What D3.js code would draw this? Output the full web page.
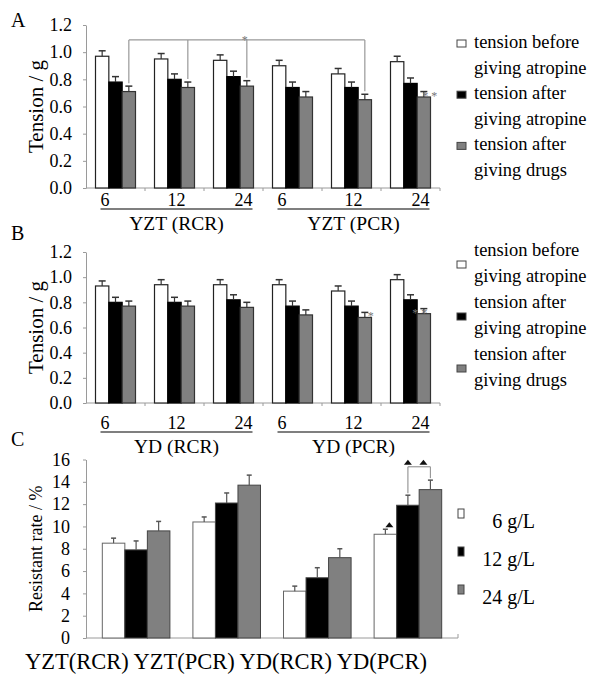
<!DOCTYPE html>
<html>
<head>
<meta charset="utf-8">
<script src="https://cdn.jsdelivr.net/npm/d3@7"></script>
<style>
body { margin: 0; background: #fff; }
svg text { font-family: "Liberation Serif", "DejaVu Serif", serif; fill: #000; }
</style>
</head>
<body>
<div id="chart"></div>
<script>
// doses (g/L) under each bar group
var doses = ['6', '12', '24'];
var seriesKeys = ['before', 'afterAtropine', 'afterDrugs'];
var tensionLegend = [
    ['tension before', 'giving atropine'],
    ['tension after', 'giving atropine'],
    ['tension after', 'giving drugs']
];
var tensionTicks = [0, 0.2, 0.4, 0.6, 0.8, 1.0, 1.2];

// panel A: YZT
var groupsA = ['YZT (RCR)', 'YZT (PCR)'];
var aBefore = [0.97, 0.95, 0.94, 0.90, 0.84, 0.93];
var aAfterAtropine = [0.78, 0.80, 0.82, 0.74, 0.74, 0.77];
var aAfterDrugs = [0.71, 0.74, 0.75, 0.67, 0.65, 0.67];
var aErr = [0.04, 0.04, 0.04, 0.04, 0.04, 0.04];

// panel B: YD
var groupsB = ['YD (RCR)', 'YD (PCR)'];
var bBefore = [0.93, 0.94, 0.94, 0.94, 0.89, 0.98];
var bAfterAtropine = [0.80, 0.80, 0.82, 0.77, 0.77, 0.82];
var bAfterDrugs = [0.77, 0.77, 0.76, 0.70, 0.68, 0.71];
var bErr = [0.04, 0.04, 0.04, 0.04, 0.04, 0.04];

// panel C: resistant rate
var categoriesC = ['YZT(RCR)', 'YZT(PCR)', 'YD(RCR)', 'YD(PCR)'];
var concKeys = ['6 g/L', '12 g/L', '24 g/L'];
var c6 = [8.5, 10.4, 4.2, 9.3];
var c12 = [7.9, 12.1, 5.4, 11.9];
var c24 = [9.6, 13.7, 7.2, 13.3];
var c6Err = [0.45, 0.45, 0.45, 0.45];
var c12Err = [0.8, 0.9, 0.9, 0.9];
var c24Err = [0.85, 0.9, 0.8, 0.85];
var resistTicks = [0, 2, 4, 6, 8, 10, 12, 14, 16];

var serif = '"Liberation Serif", "DejaVu Serif", serif';
var fills = ['#ffffff', '#000000', '#808080'];
var strokes = ['#222', '#000', '#333'];

var svg = d3.select('#chart')
    .append('svg')
    .attr('width', 601)
    .attr('height', 677)
    .attr('font-family', serif);

function styleAxis(g) {
    g.attr('font-family', serif);
    g.select('.domain').attr('stroke', '#9a9a9a');
    g.selectAll('.tick line').attr('stroke', '#9a9a9a');
    g.selectAll('.tick text')
        .attr('fill', '#000')
        .style('font-size', '18px')
        .style('font-family', serif);
}

function errorBar(g, cx, y, v, e, capHalf, colour) {
    g.append('line')
        .attr('x1', cx).attr('x2', cx)
        .attr('y1', y(v)).attr('y2', y(v + e))
        .attr('stroke', colour).attr('stroke-width', 1.2);
    g.append('line')
        .attr('x1', cx - capHalf).attr('x2', cx + capHalf)
        .attr('y1', y(v + e)).attr('y2', y(v + e))
        .attr('stroke', colour).attr('stroke-width', 1.5);
}

function tensionPanel(cfg) {
    var g = svg.append('g');
    var values = [cfg.before, cfg.afterAtropine, cfg.afterDrugs];

    var x = d3.scaleBand()
        .domain(d3.range(6))
        .range([86, 440])
        .paddingInner(0.322)
        .paddingOuter(0.161);
    var xs = d3.scaleBand()
        .domain(seriesKeys)
        .range([0, x.bandwidth()]);
    var y = d3.scaleLinear()
        .domain([0, 1.2])
        .range([cfg.bottom, cfg.top]);

    // x axis line with ticks between groups
    g.append('line')
        .attr('x1', 86).attr('x2', 440)
        .attr('y1', y(0)).attr('y2', y(0))
        .attr('stroke', '#9a9a9a');
    g.selectAll('.sep')
        .data(d3.range(1, 7))
        .enter()
        .append('line')
        .attr('x1', function(i) { return x(0) - x.step() * x.paddingInner() / 2 + i * x.step(); })
        .attr('x2', function(i) { return x(0) - x.step() * x.paddingInner() / 2 + i * x.step(); })
        .attr('y1', y(0))
        .attr('y2', y(0) + 3)
        .attr('stroke', '#9a9a9a');

    g.append('g')
        .attr('transform', 'translate(86,0)')
        .call(d3.axisLeft(y)
            .tickValues(tensionTicks)
            .tickFormat(d3.format('.1f'))
            .tickSizeInner(3)
            .tickSizeOuter(0)
            .tickPadding(11))
        .call(styleAxis);

    // bars
    seriesKeys.forEach(function(k, s) {
        g.selectAll('.bar-' + k)
            .data(values[s])
            .enter()
            .append('rect')
            .attr('x', function(d, i) { return x(i) + xs(k); })
            .attr('y', function(d) { return y(d); })
            .attr('width', xs.bandwidth())
            .attr('height', function(d) { return y(0) - y(d); })
            .attr('fill', fills[s])
            .attr('stroke', strokes[s])
            .attr('stroke-width', 1.2);
    });
    seriesKeys.forEach(function(k, s) {
        values[s].forEach(function(v, i) {
            errorBar(g, x(i) + xs(k) + xs.bandwidth() / 2, y, v, cfg.err[i], 3.5, '#333');
        });
    });

    // dose labels and group titles
    cfg.groups.forEach(function(name, gi) {
        var first = gi * 3, last = gi * 3 + 2;
        var x1 = x(first) + 5, x2 = x(last) + x.bandwidth() - 1;
        g.append('line')
            .attr('x1', x1).attr('x2', x2)
            .attr('y1', y(0) + cfg.lineGap).attr('y2', y(0) + cfg.lineGap)
            .attr('stroke', '#000').attr('stroke-width', 1.2);
        doses.forEach(function(d, di) {
            var col = first + di;
            var t = g.append('text')
                .attr('y', y(0) + cfg.lineGap - 3)
                .style('font-size', '18px')
                .text(d);
            if (di === 0) {
                t.attr('x', x1).attr('text-anchor', 'start');
            } else if (di === 2) {
                t.attr('x', x2).attr('text-anchor', 'end');
            } else {
                t.attr('x', x(col) + x.bandwidth() / 2 + 2).attr('text-anchor', 'middle');
            }
        });
        g.append('text')
            .attr('x', (x1 + x2) / 2)
            .attr('y', y(0) + cfg.lineGap + 21)
            .attr('text-anchor', 'middle')
            .style('font-size', '19.5px')
            .text(name);
    });

    // y title + panel letter
    g.append('text')
        .attr('transform', 'translate(36,' + (y(0) + y(1.2)) / 2 + ') rotate(-90)')
        .attr('text-anchor', 'middle')
        .attr('dominant-baseline', 'central')
        .style('font-size', '21px')
        .text('Tension / g');
    g.append('text')
        .attr('x', 11)
        .attr('y', cfg.letterY)
        .style('font-size', '20px')
        .text(cfg.letter);

    // legend
    var lg = g.append('g');
    tensionLegend.forEach(function(lines, s) {
        lines.forEach(function(line, li) {
            lg.append('text')
                .attr('x', 474)
                .attr('y', cfg.legendTop + (s * 2 + li) * cfg.legendStep)
                .style('font-size', '18.5px')
                .text(line);
        });
        lg.append('rect')
            .attr('x', 457)
            .attr('y', cfg.legendTop + s * 2 * cfg.legendStep + cfg.squareDy)
            .attr('width', 9)
            .attr('height', 7)
            .attr('fill', fills[s])
            .attr('stroke', '#444')
            .attr('stroke-width', 1);
    });

    // significance marks
    cfg.stars.forEach(function(st) {
        var k = seriesKeys[st.series];
        g.append('text')
            .attr('x', x(st.col) + xs(k) + xs.bandwidth() / 2 + st.dx)
            .attr('y', y(values[st.series][st.col] + cfg.err[st.col]) + 8)
            .attr('text-anchor', 'middle')
            .style('font-size', '12px')
            .style('fill', '#777')
            .text(st.text);
    });

    return {g: g, x: x, xs: xs, y: y, values: values};
}

var panelA = tensionPanel({
    top: 25, bottom: 188, letter: 'A', letterY: 27,
    groups: groupsA,
    before: aBefore, afterAtropine: aAfterAtropine, afterDrugs: aAfterDrugs, err: aErr,
    lineGap: 21,
    legendTop: 48, legendStep: 25.6, squareDy: -8,
    stars: [{col: 5, series: 2, dx: 6, text: '* *'}]
});

// bracket across grey bars in panel A
(function() {
    var p = panelA;
    var cols = [0, 1, 2, 4];
    var level = 1.09;
    var k = seriesKeys[2];
    var cx = function(c) { return p.x(c) + p.xs(k) + p.xs.bandwidth() / 2; };
    p.g.append('line')
        .attr('x1', cx(cols[0])).attr('x2', cx(cols[cols.length - 1]))
        .attr('y1', p.y(level)).attr('y2', p.y(level))
        .attr('stroke', '#999').attr('stroke-width', 1.2);
    cols.forEach(function(c) {
        p.g.append('line')
            .attr('x1', cx(c)).attr('x2', cx(c))
            .attr('y1', p.y(level))
            .attr('y2', p.y(p.values[2][c] + aErr[c]) - 3)
            .attr('stroke', '#999').attr('stroke-width', 1.2);
    });
    p.g.append('text')
        .attr('x', cx(2) - 2)
        .attr('y', p.y(level) + 4)
        .attr('text-anchor', 'middle')
        .style('font-size', '12px')
        .style('fill', '#777')
        .text('*');
})();

tensionPanel({
    top: 252, bottom: 403, letter: 'B', letterY: 240,
    groups: groupsB,
    before: bBefore, afterAtropine: bAfterAtropine, afterDrugs: bAfterDrugs, err: bErr,
    lineGap: 29,
    legendTop: 256, legendStep: 26, squareDy: 5,
    stars: [{col: 4, series: 2, dx: 6, text: '*'}, {col: 5, series: 2, dx: -4, text: '* *'}]
});

// panel C
(function() {
    var g = svg.append('g');
    var values = [c6, c12, c24];
    var errs = [c6Err, c12Err, c24Err];

    var x = d3.scaleBand()
        .domain(categoriesC)
        .range([86, 458])
        .paddingInner(0.254)
        .paddingOuter(0.18);
    var xs = d3.scaleBand()
        .domain(concKeys)
        .range([0, x.bandwidth()]);
    var y = d3.scaleLinear()
        .domain([0, 16])
        .range([638, 459.5]);

    g.append('line')
        .attr('x1', 86).attr('x2', 458)
        .attr('y1', y(0)).attr('y2', y(0))
        .attr('stroke', '#9a9a9a');
    g.append('line')
        .attr('x1', 458).attr('x2', 458)
        .attr('y1', y(0)).attr('y2', y(0) - 4)
        .attr('stroke', '#9a9a9a');

    g.append('g')
        .attr('transform', 'translate(86,0)')
        .call(d3.axisLeft(y)
            .tickValues(resistTicks)
            .tickFormat(d3.format('d'))
            .tickSizeInner(3)
            .tickSizeOuter(0)
            .tickPadding(13))
        .call(styleAxis);

    concKeys.forEach(function(k, s) {
        g.selectAll('.cbar' + s)
            .data(values[s])
            .enter()
            .append('rect')
            .attr('x', function(d, i) { return x(categoriesC[i]) + xs(k); })
            .attr('y', function(d) { return y(d); })
            .attr('width', xs.bandwidth())
            .attr('height', function(d) { return y(0) - y(d); })
            .attr('fill', fills[s])
            .attr('stroke', s === 0 ? '#666' : '#444')
            .attr('stroke-width', 1);
    });
    concKeys.forEach(function(k, s) {
        values[s].forEach(function(v, i) {
            errorBar(g, x(categoriesC[i]) + xs(k) + xs.bandwidth() / 2, y, v, errs[s][i], 2.5, '#555');
        });
    });

    // category labels, one line of text
    g.append('text')
        .attr('x', 25)
        .attr('y', 669)
        .style('font-size', '22.5px')
        .text(categoriesC.join(' '));

    g.append('text')
        .attr('transform', 'translate(36,' + (y(0) + y(16)) / 2 + ') rotate(-90)')
        .attr('text-anchor', 'middle')
        .attr('dominant-baseline', 'central')
        .style('font-size', '18px')
        .text('Resistant rate / %');
    g.append('text')
        .attr('x', 11)
        .attr('y', 446)
        .style('font-size', '20px')
        .text('C');

    // legend
    concKeys.forEach(function(k, s) {
        var base = 528 + s * 38;
        g.append('rect')
            .attr('x', 458)
            .attr('y', base - 19)
            .attr('width', 6)
            .attr('height', 9)
            .attr('fill', fills[s])
            .attr('stroke', '#444');
        g.append('text')
            .attr('x', 535)
            .attr('y', base)
            .attr('text-anchor', 'end')
            .style('font-size', '20px')
            .text(k);
    });

    // triangles and bracket on YD(PCR)
    var last = categoriesC[3];
    var cx = function(s) { return x(last) + xs(concKeys[s]) + xs.bandwidth() / 2; };
    var level = 15.35;
    function tri(px, py) {
        g.append('path')
            .attr('d', 'M' + (px - 4) + ',' + py + 'L' + (px + 4) + ',' + py + 'L' + px + ',' + (py - 5) + 'Z')
            .attr('fill', '#111');
    }
    g.append('line')
        .attr('x1', cx(1)).attr('x2', cx(2))
        .attr('y1', y(level)).attr('y2', y(level))
        .attr('stroke', '#999').attr('stroke-width', 1.2);
    [1, 2].forEach(function(s) {
        g.append('line')
            .attr('x1', cx(s)).attr('x2', cx(s))
            .attr('y1', y(level))
            .attr('y2', y(values[s][3] + errs[s][3]) - 2)
            .attr('stroke', '#999').attr('stroke-width', 1.2);
    });
    tri(cx(1), y(level) - 2);
    tri(cx(2) - 7, y(level) - 2);
    tri(cx(0) + 4, y(values[0][3] + errs[0][3]) - 2);
})();
</script>
</body>
</html>
